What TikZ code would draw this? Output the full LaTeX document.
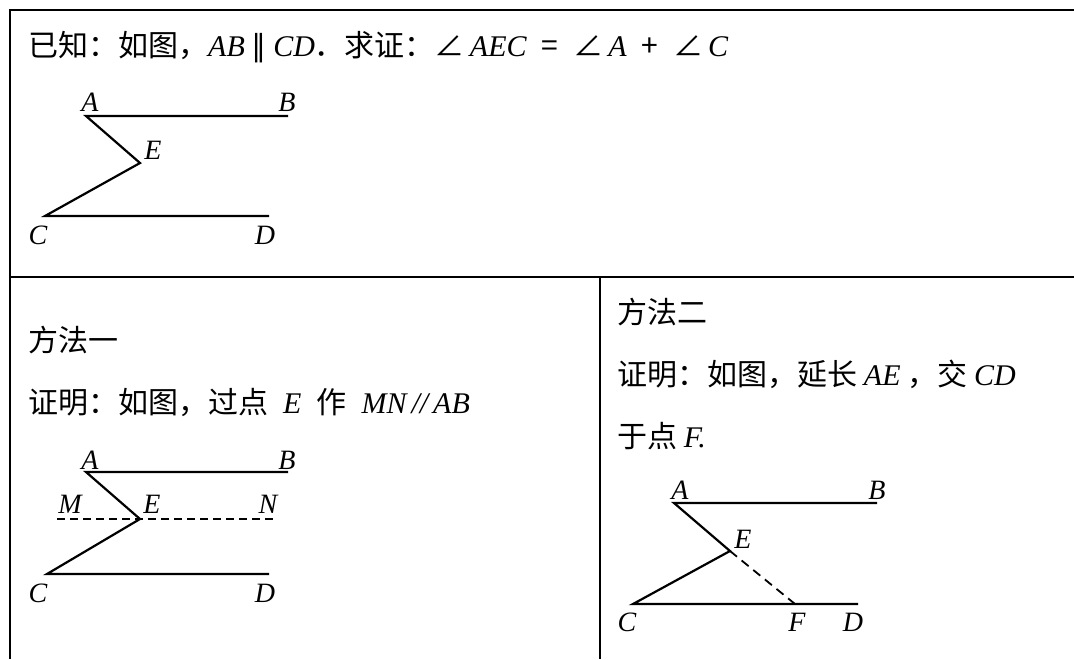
\documentclass[tikz,border=0pt]{standalone}
\usepackage{fontspec}
\setmainfont{Liberation Serif}
\newfontfamily\cjk{Noto Sans CJK SC}
\newfontfamily\symf{DejaVu Sans}
\newcommand\ivar[1]{{\rmfamily\itshape\fontsize{30}{30}\selectfont #1}}
\usepackage{tikz}

\begin{document}
\begin{tikzpicture}[
  x=1pt,y=-1pt,
  rule/.style={line width=2.4pt},
  seg/.style={line width=2.2pt,line join=miter},
  aux/.style={line width=1.8pt,dash pattern=on 8pt off 5pt},
  txt/.style={anchor=base west,inner sep=0pt,font=\cjk\fontsize{30}{30}\selectfont},
  lbl/.style={inner sep=0pt,font=\rmfamily\itshape\fontsize{28}{28}\selectfont}
]
  \useasboundingbox (0,0) rectangle (1074,659);
  \draw[rule] (1074,10) -- (10,10) -- (10,659);
  \draw[rule] (10,277) -- (1074,277);
  \draw[rule] (600,277) -- (600,659);

  \node[txt] (given) at (28,56) {已知：如图，\ivar{AB}\ {\symf ∥}\ \ivar{CD}．求证：∠\,\ivar{AEC}\enspace=\enspace∠\,\ivar{A}\enspace+\enspace∠\,\ivar{C}};
  \node[txt] (m1title) at (28,351) {方法一};
  \node[txt] (m1proof) at (28,413) {证明：如图，过点\enspace\ivar{E}\enspace{}作\enspace\ivar{MN\,//\,AB}};
  \node[txt] (m2title) at (617,323) {方法二};
  \node[txt] (m2proof) at (617,385) {证明：如图，延长 \ivar{AE}\ ，交\ \ivar{CD}};
  \node[txt] (m2proofb) at (617,447) {于点 \ivar{F.}};

  \coordinate (A0) at (86,116);
  \coordinate (B0) at (288,116);
  \coordinate (E0) at (140,163);
  \coordinate (C0) at (45,216);
  \coordinate (D0) at (269,216);
  \draw[seg] (B0) -- (A0) -- (E0) -- (C0) -- (D0);
  \node[lbl] (lA0) at (90,102) {A};
  \node[lbl] (lB0) at (287,102) {B};
  \node[lbl] (lE0) at (153,150) {E};
  \node[lbl] (lC0) at (38,235) {C};
  \node[lbl] (lD0) at (265,235) {D};

  \coordinate (A1) at (86,472);
  \coordinate (B1) at (288,472);
  \coordinate (E1) at (140,519);
  \coordinate (M1) at (57,519);
  \coordinate (N1) at (277,519);
  \coordinate (C1) at (47,574);
  \coordinate (D1) at (269,574);
  \draw[aux] (M1) -- (N1);
  \draw[seg] (B1) -- (A1) -- (E1) -- (C1) -- (D1);
  \node[lbl] (lA1) at (90,460) {A};
  \node[lbl] (lB1) at (287,460) {B};
  \node[lbl] (lM1) at (70,504) {M};
  \node[lbl] (lE1) at (152,504) {E};
  \node[lbl] (lN1) at (268,504) {N};
  \node[lbl] (lC1) at (38,593) {C};
  \node[lbl] (lD1) at (265,593) {D};

  \coordinate (A2) at (674,503);
  \coordinate (B2) at (877,503);
  \coordinate (E2) at (730,551);
  \coordinate (C2) at (633,604);
  \coordinate (D2) at (858,604);
  \coordinate (F2) at (795,604);
  \draw[seg] (B2) -- (A2) -- (E2) -- (C2) -- (D2);
  \draw[aux,dash pattern=on 9pt off 6pt] (E2) -- (F2);
  \node[lbl] (lA2) at (680,490) {A};
  \node[lbl] (lB2) at (877,490) {B};
  \node[lbl] (lE2) at (743,539) {E};
  \node[lbl] (lC2) at (627,622) {C};
  \node[lbl] (lF2) at (797,622) {F};
  \node[lbl] (lD2) at (853,622) {D};
\end{tikzpicture}
\end{document}
